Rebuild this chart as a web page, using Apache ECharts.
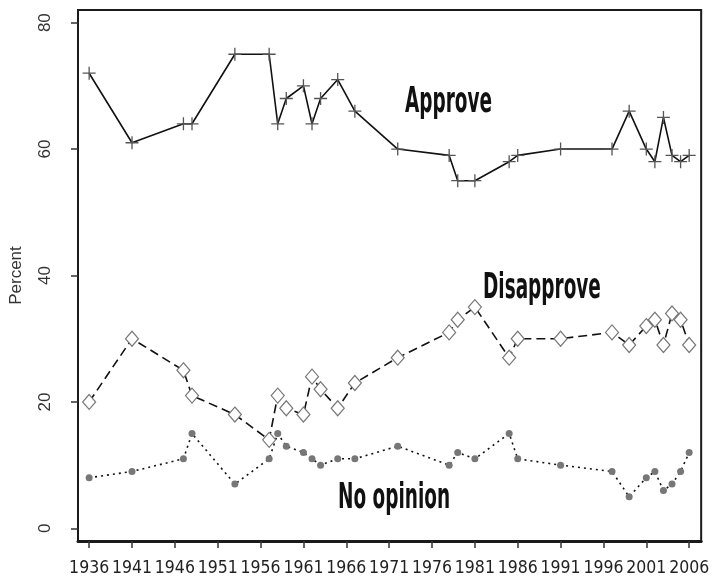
<!DOCTYPE html>
<html><head><meta charset="utf-8">
<script src="https://cdn.jsdelivr.net/npm/echarts@6/dist/echarts.min.js"></script>
<style>html,body{margin:0;padding:0;background:#fff}#c{width:712px;height:580px}</style>
</head><body><div id="c"></div>
<script>
var years = [1936,1941,1947,1948,1953,1957,1958,1959,1961,1962,1963,1965,1967,1972,1978,1979,1981,1985,1986,1991,1997,1999,2001,2002,2003,2004,2005,2006];
var approve = [72,61,64,64,75,75,64,68,70,64,68,71,66,60,59,55,55,58,59,60,60,66,60,58,65,59,58,59];
var disapprove = [20,30,25,21,18,14,21,19,18,24,22,19,23,27,31,33,35,27,30,30,31,29,32,33,29,34,33,29];
var noOpinion = [8,9,11,15,7,11,15,13,12,11,10,11,11,13,10,12,11,15,11,10,9,5,8,9,6,7,9,12];
var xTicks = [1936,1941,1946,1951,1956,1961,1966,1971,1976,1981,1986,1991,1996,2001,2006];
var yTicks = [0,20,40,60,80];
var seriesNames = ['Approve','Disapprove','No opinion'];

function pairs(v){ return years.map(function(y,i){ return [y, v[i]]; }); }

var chart = echarts.init(document.getElementById('c'), null, {renderer:'canvas'});
var narrow = '"Liberation Sans Narrow","DejaVu Sans Condensed",sans-serif';
chart.setOption({
  animation:false,
  backgroundColor:'#fff',
  grid:{left:68, top:10, right:9, bottom:39, show:true, borderColor:'#1a1a1a', borderWidth:2, backgroundColor:'#fff'},
  xAxis:{type:'value', min:1934.7, max:2007.4,
    axisLine:{show:true, onZero:false, lineStyle:{color:'#1a1a1a', width:3}},
    axisTick:{show:true, customValues:xTicks, length:7, lineStyle:{color:'#333', width:1.5}},
    axisLabel:{customValues:xTicks, color:'#222', fontFamily:narrow, fontSize:17.5, margin:18,
      hideOverlap:false, showMinLabel:true, showMaxLabel:true,
      formatter:function(v){ return String(v); }},
    splitLine:{show:false}},
  yAxis:{type:'value', min:-2, max:82, name:'Percent', nameLocation:'middle', nameGap:53, nameRotate:90,
    nameTextStyle:{color:'#333', fontFamily:'"Liberation Sans",Arial,sans-serif', fontSize:17},
    axisLine:{show:true, onZero:false, lineStyle:{color:'#1a1a1a', width:2}},
    axisTick:{show:true, customValues:yTicks, length:7, lineStyle:{color:'#333', width:1.5}},
    axisLabel:{customValues:yTicks, rotate:90, color:'#333', fontFamily:'"Liberation Sans",Arial,sans-serif', fontSize:17, margin:24,
      formatter:function(v){ return String(v); }},
    splitLine:{show:false}},
  series:[
    {name:seriesNames[0], type:'line', data:pairs(approve),
      symbol:'path://M0,-6 L0,6 M-6,0 L6,0', symbolSize:13,
      itemStyle:{color:'transparent', borderColor:'#555', borderWidth:1.3},
      lineStyle:{color:'#111', width:1.6}},
    {name:seriesNames[1], type:'line', data:pairs(disapprove),
      symbol:'diamond', symbolSize:[13,15],
      itemStyle:{color:'#fff', borderColor:'#777', borderWidth:1.2},
      lineStyle:{color:'#111', width:1.6, type:[9,5]}},
    {name:seriesNames[2], type:'line', data:pairs(noOpinion),
      symbol:'circle', symbolSize:7,
      itemStyle:{color:'#777'},
      lineStyle:{color:'#111', width:1.6, type:[2,4]}}
  ],
  graphic:[
    {type:'text', x:405, y:85, scaleX:0.57, style:{text:seriesNames[0], font:'bold 36px '+narrow, fill:'#111', textVerticalAlign:'top'}},
    {type:'text', x:483, y:271, scaleX:0.57, style:{text:seriesNames[1], font:'bold 36px '+narrow, fill:'#111', textVerticalAlign:'top'}},
    {type:'text', x:338, y:481, scaleX:0.57, style:{text:seriesNames[2], font:'bold 36px '+narrow, fill:'#111', textVerticalAlign:'top'}}
  ]
});
</script></body></html>
